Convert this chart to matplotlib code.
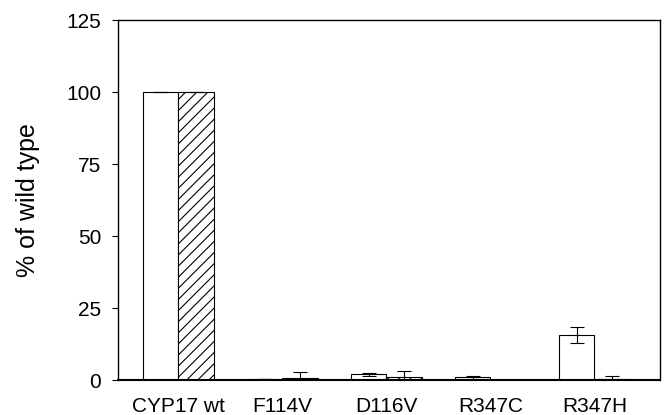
import matplotlib
matplotlib.use("Agg")
import matplotlib.pyplot as plt
import numpy as np

plt.rcParams['font.family'] = ['Liberation Sans', 'DejaVu Sans']
plt.rcParams['hatch.linewidth'] = 0.8

categories = ["CYP17 wt", "F114V", "D116V", "R347C", "R347H"]
open_vals = [100, 0.3, 2.0, 1.0, 15.7]
open_err = [0, 0.1, 0.5, 0.5, 2.8]
hatched_vals = [100, 0.8, 1.0, 0.0, 0.3]
hatched_err = [0, 2.0, 2.0, 0, 1.2]

fig = plt.figure(figsize=(6.65, 4.15), dpi=100)
ax = fig.add_axes([118/665, 35/415, 542/665, 360/415])

x = np.arange(len(categories))
w = 0.34
ax.bar(x - w/2, open_vals, w, color='white', edgecolor='black', linewidth=0.8,
       yerr=open_err, error_kw=dict(ecolor='black', elinewidth=0.8, capsize=5, capthick=0.8))
ax.bar(x + w/2, hatched_vals, w, color='white', edgecolor='black', linewidth=0.8, hatch='///',
       yerr=hatched_err, error_kw=dict(ecolor='black', elinewidth=0.8, capsize=5, capthick=0.8))

ax.set_xlim(-0.58, 4.63)
ax.set_ylim(0, 125)
ax.set_yticks([0, 25, 50, 75, 100, 125])
ax.set_xticks(x)
ax.set_xticklabels(categories, fontsize=15)
ax.tick_params(axis='x', length=0, pad=12)
ax.tick_params(axis='y', direction='out', length=4, labelsize=15, width=0.8, pad=8)
ax.set_ylabel("% of wild type", fontsize=18, labelpad=19)
for s in ax.spines.values():
    s.set_linewidth(1.0)
ax.spines['bottom'].set_linewidth(1.5)

fig.savefig("out.png", dpi=100)
